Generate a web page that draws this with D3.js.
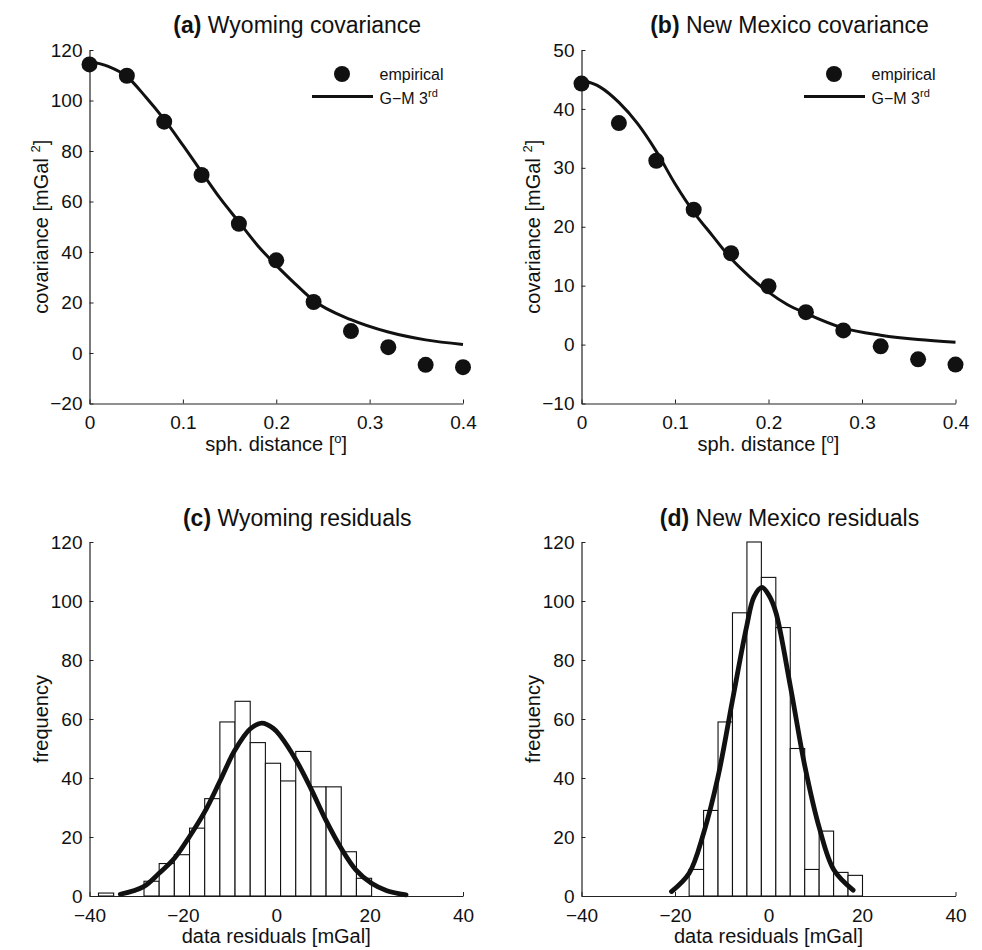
<!DOCTYPE html>
<html>
<head>
<meta charset="utf-8">
<script src="https://cdn.jsdelivr.net/npm/d3@7"></script>
<style>
  html, body { margin: 0; padding: 0; background: #fff; }
  svg { display: block; font-family: "Liberation Sans", Arial, Helvetica, sans-serif; }
  .tick text { font-size: 19px; fill: #111; }
  .domain, .tick line { stroke: #222; }
</style>
</head>
<body>
<svg id="chart" width="982" height="950"></svg>
<script>
// ---------- data ----------
// (a) Wyoming covariance
const covDist = [0, 0.04, 0.08, 0.12, 0.16, 0.20, 0.24, 0.28, 0.32, 0.36, 0.40];
const wyEmpirical = [114.3, 109.8, 91.6, 70.5, 51.2, 36.7, 20.2, 8.7, 2.3, -4.7, -5.6];
const gmDist = [0, 0.02, 0.04, 0.06, 0.08, 0.10, 0.12, 0.14, 0.16, 0.18, 0.20, 0.22, 0.24, 0.28, 0.32, 0.36, 0.40];
const wyGM = [115.5, 113.5, 109.5, 101.5, 92.5, 82.3, 71.7, 61.2, 51.9, 42.6, 34.7, 27.5, 20.8, 13.2, 8.3, 5.2, 3.4];
// (b) New Mexico covariance
const nmEmpirical = [44.3, 37.6, 31.2, 22.9, 15.5, 9.9, 5.5, 2.4, -0.3, -2.5, -3.4];
const nmGM = [44.9, 43.7, 41.1, 37.5, 32.8, 27.3, 22.5, 18.5, 14.6, 11.5, 8.9, 6.8, 5.3, 2.8, 1.6, 0.85, 0.4];
// (c) Wyoming residuals histogram
const wyBinCenters = [-36.45, -33.2, -29.95, -26.7, -23.45, -20.2, -16.95, -13.7, -10.45, -7.2, -3.95, -0.7, 2.55, 5.8, 9.05, 12.3, 15.55, 18.8];
const wyBinWidth = 3.25;
const wyCounts = [1, 0, 0, 5, 11, 14, 23, 33, 59, 66, 52, 45, 39, 49, 37, 37, 15, 6];
const wyNormX = [-33.4, -28.4, -25.1, -21.8, -18.6, -15.3, -12.1, -8.9, -5.6, -3.1, -0.6, 0.9, 4.2, 7.4, 10.6, 13.9, 17.1, 20.4, 23.7, 27.8];
const wyNormY = [0.6, 3.2, 7.7, 12.8, 20.1, 28.6, 38.8, 49.3, 56.6, 58.6, 56.8, 54.2, 46.2, 36.5, 25.8, 16.2, 8.8, 4.3, 1.8, 0.4];
// (d) New Mexico residuals histogram
const nmBinCenters = [-15.43, -12.34, -9.25, -6.16, -3.07, 0.02, 3.11, 6.2, 9.29, 12.38, 15.47, 18.56];
const nmBinWidth = 3.09;
const nmCounts = [9, 29, 59, 96, 120, 108, 91, 50, 9, 22, 8, 7];
const nmNormX = [-20.75, -16.98, -13.9, -10.8, -7.7, -4.7, -3.1, -1.4, 0.2, 1.6, 4.7, 7.8, 10.9, 14.0, 18.1];
const nmNormY = [1.5, 7.7, 21.2, 40.4, 66.4, 91.2, 101.4, 104.6, 101.6, 96.0, 70.9, 43.8, 22.9, 8.8, 2.0];
// ticks
const covXTicks = [0, 0.1, 0.2, 0.3, 0.4];
const wyCovYTicks = [-20, 0, 20, 40, 60, 80, 100, 120];
const nmCovYTicks = [-10, 0, 10, 20, 30, 40, 50];
const resXTicks = [-40, -20, 0, 20, 40];
const freqYTicks = [0, 20, 40, 60, 80, 100, 120];

// ---------- layout ----------
const svg = d3.select("#chart");
const cols = [[89.5, 463], [581.5, 955.5]];
const rows = [[50, 403.5], [542, 896]];

function axes(col, row, xDom, yDom, xTicks, yTicks, xFmt) {
  const x = d3.scaleLinear().domain(xDom).range(cols[col]);
  const y = d3.scaleLinear().domain(yDom).range([rows[row][1], rows[row][0]]);
  const g = svg.append("g");
  g.append("g").attr("transform", `translate(0,${rows[row][1]})`)
    .call(d3.axisBottom(x).tickValues(xTicks).tickFormat(xFmt).tickSizeInner(-4).tickSizeOuter(0).tickPadding(12.5));
  g.append("g").attr("transform", `translate(${cols[col][0]},0)`)
    .call(d3.axisLeft(y).tickValues(yTicks).tickSizeInner(-4).tickSizeOuter(0).tickPadding(7));
  g.selectAll(".domain").attr("stroke-width", 1.2);
  return {x, y, g};
}

function title(col, row, bold, rest) {
  const cx = (cols[col][0] + cols[col][1]) / 2 + 21;
  const t = svg.append("text").attr("x", cx).attr("y", row === 0 ? 33 : 526)
    .attr("text-anchor", "middle").attr("font-size", 23).attr("fill", "#111");
  t.append("tspan").attr("font-weight", "bold").text(bold);
  t.append("tspan").text(rest);
}

function xLabel(col, row, parts) {
  const cx = (cols[col][0] + cols[col][1]) / 2;
  const t = svg.append("text").attr("x", cx).attr("y", row === 0 ? 451 : 943)
    .attr("text-anchor", "middle").attr("font-size", 20).attr("fill", "#111");
  parts(t);
}

function yLabel(col, row, parts) {
  const cy = (rows[row][0] + rows[row][1]) / 2;
  const bx = cols[col][0] - 42;
  const t = svg.append("text").attr("transform", `translate(${bx},${cy}) rotate(-90)`)
    .attr("text-anchor", "middle").attr("font-size", 20).attr("fill", "#111");
  parts(t);
}

const covLabelX = t => {
  t.append("tspan").text("sph. distance [");
  t.append("tspan").attr("font-size", 13).attr("dy", -8).text("o");
  t.append("tspan").attr("dy", 8).text("]");
};
const covLabelY = t => {
  t.append("tspan").text("covariance [mGal ");
  t.append("tspan").attr("font-size", 13).attr("dy", -8).text("2");
  t.append("tspan").attr("dy", 8).text("]");
};
const resLabelX = t => t.text("data residuals [mGal]");
const resLabelY = t => t.text("frequency");

function legend(col) {
  const l = cols[col][0];
  svg.append("circle").attr("cx", l + 252.5).attr("cy", 74).attr("r", 8).attr("fill", "#111");
  svg.append("text").attr("x", l + 290).attr("y", 80).attr("font-size", 16).attr("fill", "#111").text("empirical");
  svg.append("line").attr("x1", l + 222.5).attr("x2", l + 283.5).attr("y1", 96.5).attr("y2", 96.5)
    .attr("stroke", "#111").attr("stroke-width", 3);
  const t = svg.append("text").attr("x", l + 290).attr("y", 104).attr("font-size", 16).attr("fill", "#111");
  t.append("tspan").text("G\u2212M 3");
  t.append("tspan").attr("font-size", 11).attr("dy", -7).text("rd");
}

function covPanel(col, yDom, yTicks, emp, gm, bold, rest) {
  const {x, y} = axes(col, 0, [0, 0.4], yDom, covXTicks, yTicks, d => d === 0 ? "0" : d3.format(".1f")(d));
  const line = d3.line().x((d, i) => x(gmDist[i])).y(d => y(d)).curve(d3.curveMonotoneX);
  svg.append("path").datum(gm).attr("d", line).attr("fill", "none").attr("stroke", "#111").attr("stroke-width", 3);
  svg.append("g").selectAll("circle").data(emp).join("circle")
    .attr("cx", (d, i) => x(covDist[i])).attr("cy", d => y(d)).attr("r", 8).attr("fill", "#111");
  title(col, 0, bold, rest);
  xLabel(col, 0, covLabelX);
  yLabel(col, 0, covLabelY);
  legend(col);
}

function histPanel(col, centers, width, counts, nx, ny, bold, rest) {
  const {x, y} = axes(col, 1, [-40, 40], [0, 120], resXTicks, freqYTicks, d3.format("d"));
  svg.append("g").selectAll("rect").data(counts).join("rect")
    .attr("x", (d, i) => x(centers[i] - width / 2))
    .attr("width", (d, i) => x(centers[i] + width / 2) - x(centers[i] - width / 2))
    .attr("y", d => y(d)).attr("height", d => y(0) - y(d))
    .attr("fill", "#fff").attr("stroke", "#111").attr("stroke-width", 1.1);
  const line = d3.line().x((d, i) => x(nx[i])).y(d => y(d)).curve(d3.curveCatmullRom.alpha(0.5));
  svg.append("path").datum(ny).attr("d", line).attr("fill", "none").attr("stroke", "#111")
    .attr("stroke-width", 4.8).attr("stroke-linecap", "round");
  title(col, 1, bold, rest);
  xLabel(col, 1, resLabelX);
  yLabel(col, 1, resLabelY);
}

covPanel(0, [-20, 120], wyCovYTicks, wyEmpirical, wyGM, "(a)", " Wyoming covariance");
covPanel(1, [-10, 50], nmCovYTicks, nmEmpirical, nmGM, "(b)", " New Mexico covariance");
histPanel(0, wyBinCenters, wyBinWidth, wyCounts, wyNormX, wyNormY, "(c)", " Wyoming residuals");
histPanel(1, nmBinCenters, nmBinWidth, nmCounts, nmNormX, nmNormY, "(d)", " New Mexico residuals");
</script>
</body>
</html>
